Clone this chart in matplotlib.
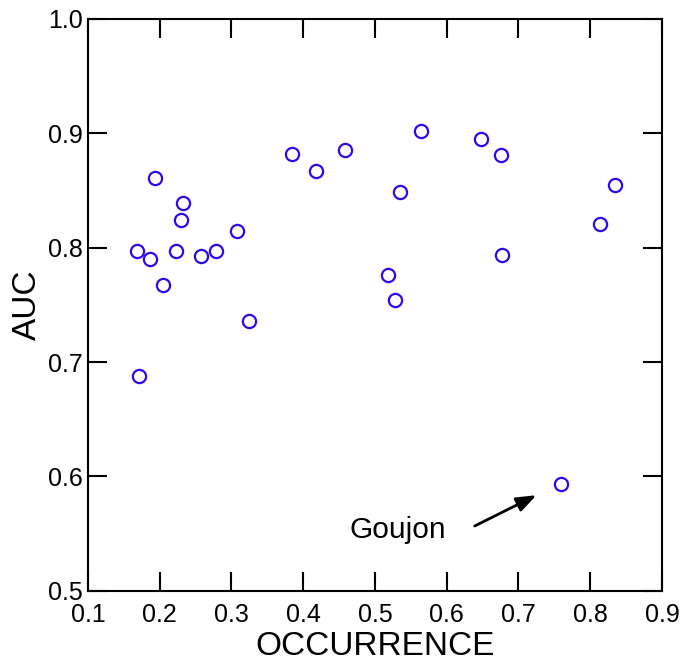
import numpy as np
import matplotlib
matplotlib.use("Agg")
import matplotlib.pyplot as plt

plt.rcParams["font.family"] = ["Liberation Sans", "DejaVu Sans"]

# species occurrence vs. model AUC
occurrence = [0.168, 0.187, 0.194, 0.205, 0.223, 0.229, 0.233, 0.257, 0.278,
              0.308, 0.325, 0.384, 0.418, 0.458, 0.518, 0.528, 0.535, 0.564,
              0.648, 0.675, 0.677, 0.759, 0.814, 0.835, 0.171]
auc = [0.797, 0.790, 0.861, 0.767, 0.797, 0.824, 0.839, 0.793, 0.797,
       0.815, 0.736, 0.882, 0.867, 0.885, 0.776, 0.754, 0.849, 0.902,
       0.895, 0.881, 0.794, 0.593, 0.821, 0.855, 0.688]

label_name = "Goujon"
label_xy = (0.465, 0.553)
arrow_tail = (0.639, 0.5566)
arrow_tip = (0.725, 0.5835)

xticks = np.round(np.arange(0.1, 0.91, 0.1), 1)
yticks = np.round(np.arange(0.5, 1.01, 0.1), 1)

fig = plt.figure(figsize=(6.8, 6.64), dpi=100)
ax = fig.add_axes([0.1294, 0.1104, 0.8441, 0.861])

ax.plot(occurrence, auc, linestyle="none", marker="o", markersize=9.5,
        markerfacecolor="none", markeredgecolor="#2a0aee", markeredgewidth=1.6)

ax.annotate("", xy=arrow_tip, xytext=arrow_tail,
            arrowprops=dict(arrowstyle="-|>,head_length=1.2,head_width=0.45",
                            color="black", lw=2, shrinkA=0, shrinkB=0))
ax.text(label_xy[0], label_xy[1], label_name, fontsize=21.5, va="center", ha="left")

ax.set_xlim(0.1, 0.9)
ax.set_ylim(0.5, 1.0)
ax.set_xticks(xticks)
ax.set_yticks(yticks)
ax.set_xticklabels([f"{v:.1f}" for v in xticks])
ax.set_yticklabels([f"{v:.1f}" for v in yticks])
ax.tick_params(direction="in", length=13.5, width=1.5, labelsize=18,
               top=True, right=True)
ax.tick_params(axis="x", pad=9)
ax.tick_params(axis="y", pad=4)
for s in ax.spines.values():
    s.set_linewidth(1.5)

ax.set_xlabel("OCCURRENCE", fontsize=24, labelpad=3)
ax.set_ylabel("AUC", fontsize=24, labelpad=3)

fig.savefig("out.png", dpi=100)
